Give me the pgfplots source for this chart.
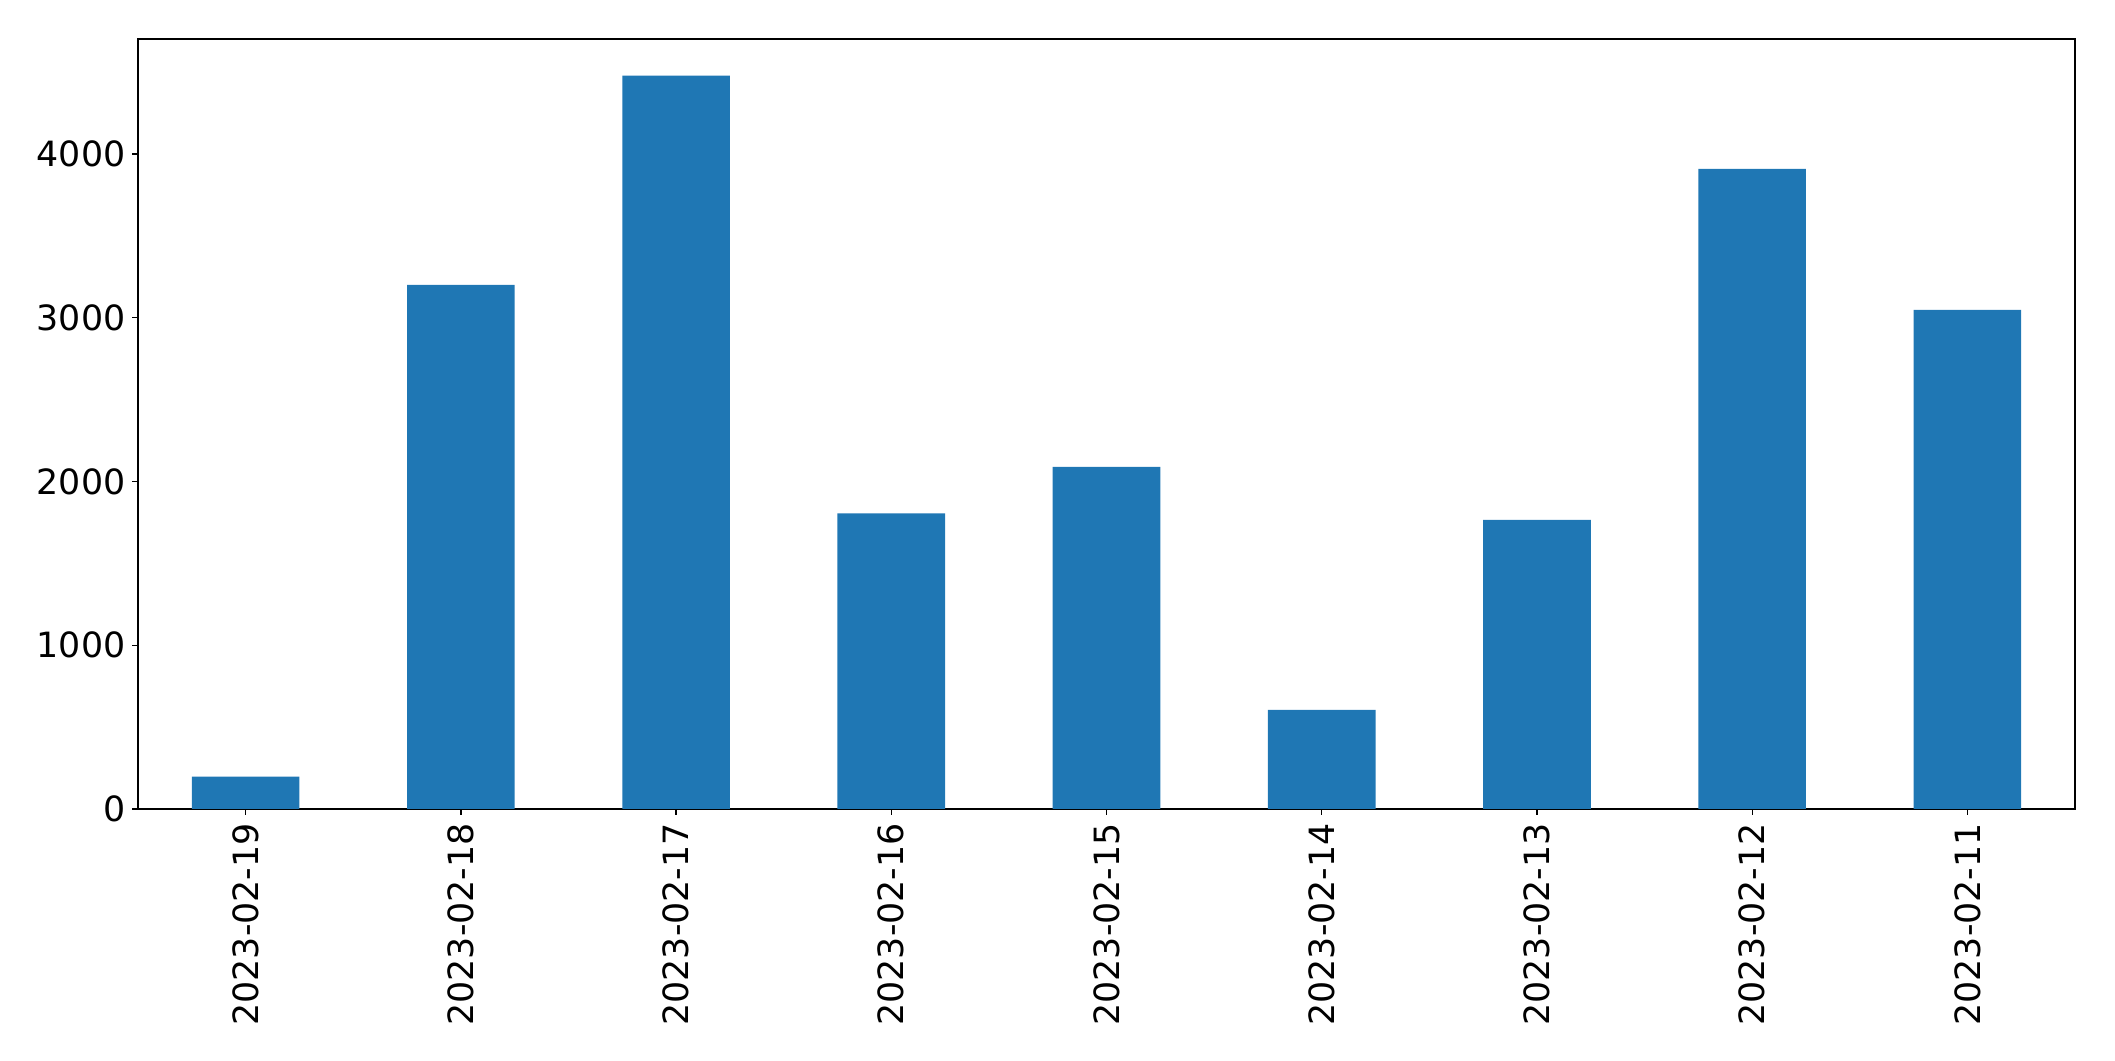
\documentclass[border=0pt]{standalone}
\usepackage{pgfplots}
\pgfplotsset{compat=1.18}
\usepackage{fontspec}
\setmainfont{DejaVu Sans}
\definecolor{mplblue}{HTML}{1F77B4}
\begin{document}
\begin{tikzpicture}
\begin{axis}[
  scale only axis, width=968.5pt, height=385pt,
  xmin=-0.5, xmax=8.5, ymin=0, ymax=4703,
  xtick={0,1,2,3,4,5,6,7,8},
  xticklabels={2023-02-19,2023-02-18,2023-02-17,2023-02-16,2023-02-15,2023-02-14,2023-02-13,2023-02-12,2023-02-11},
  ytick={0,1000,2000,3000,4000},
  tick align=outside, xtick pos=bottom, ytick pos=left,
  major tick length=2.9pt,
  tick style={black, line width=0.67pt},
  axis line style={line width=0.67pt},
  font=\fontsize{17.4}{21}\selectfont,
  /pgf/number format/assume math mode=true,
  /pgf/number format/1000 sep={},
  xticklabel style={rotate=90, anchor=east, inner sep=0pt, xshift=-4pt},
  yticklabel style={anchor=east, inner sep=0pt, xshift=-3.2pt},
  clip=false,
]
\addplot[ybar, bar width=0.5, fill=mplblue, draw=none] coordinates {
(0,198) (1,3201) (2,4479) (3,1805) (4,2090) (5,605) (6,1766) (7,3910) (8,3048)
};
\path ([shift={(-69pt,19.5pt)}]rel axis cs:0,1) -- ([shift={(20pt,-126pt)}]rel axis cs:1,0);
\end{axis}
\end{tikzpicture}
\end{document}
